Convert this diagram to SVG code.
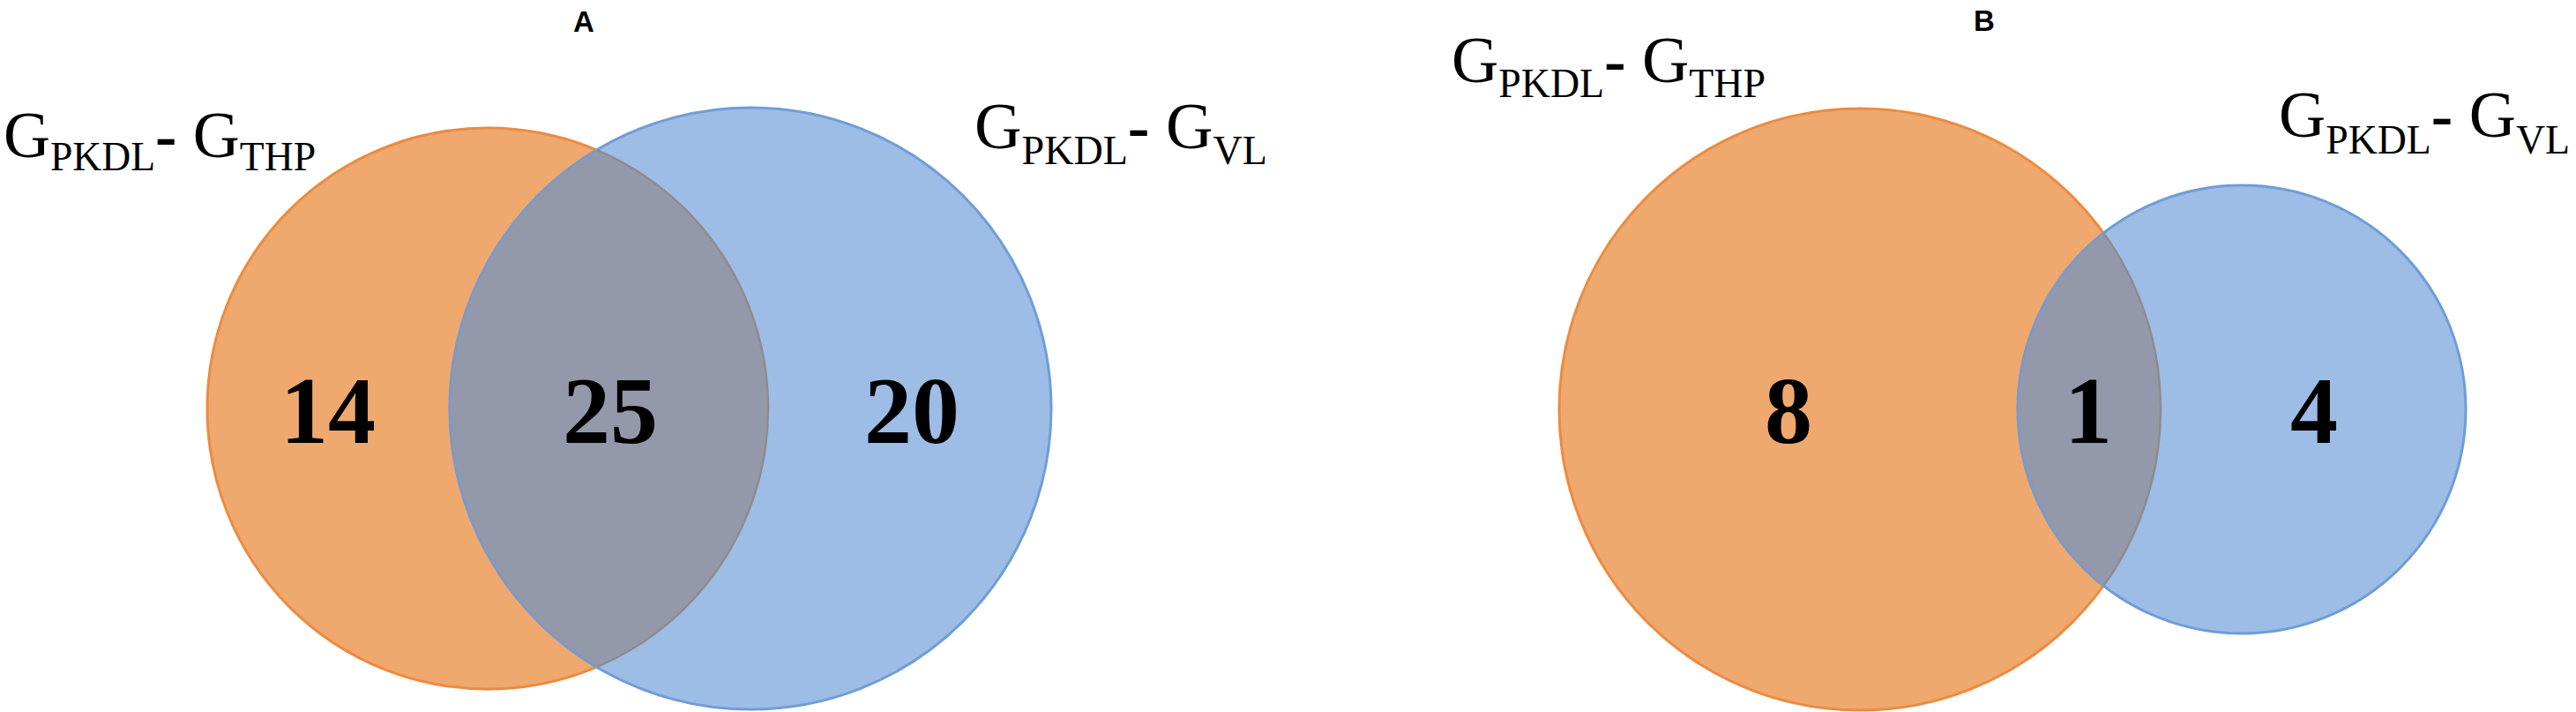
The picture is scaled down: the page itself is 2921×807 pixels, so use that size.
<svg xmlns="http://www.w3.org/2000/svg" width="2921" height="807" viewBox="0 0 2921 807">
<style>
.bg{fill:#ffffff}
.orange{fill:#EFA86E;stroke:#EC8B40;stroke-width:3}
.blue{fill:#9DBCE6;stroke:#6F9DD7;stroke-width:3}
.ov{fill:#9399AA;stroke:none}
.edgeO{fill:none;stroke:#8E8B90;stroke-width:2.5}
.edgeB{fill:none;stroke:#7D99C8;stroke-width:2.5}
.lbl{font-family:"Liberation Serif","Times New Roman",serif;font-size:74px;fill:#000}
.sub{font-size:46px}
.dash{font-weight:bold}
.num{font-family:"Liberation Serif","Times New Roman",serif;font-size:108px;font-weight:bold;fill:#000;text-anchor:middle}
.title{font-family:"Liberation Sans",Arial,sans-serif;font-size:33px;font-weight:bold;fill:#000;text-anchor:middle}
</style>
<defs>
<clipPath id="cOA"><circle cx="553" cy="463" r="318"/></clipPath>
<clipPath id="cBA"><circle cx="851" cy="463" r="341"/></clipPath>
<clipPath id="cOB"><circle cx="2109" cy="464" r="341"/></clipPath>
<clipPath id="cBB"><circle cx="2542" cy="464" r="254"/></clipPath>
</defs>
<rect class="bg" x="0" y="0" width="2921" height="807"/>
<g id="connectors"/>
<g id="panel-a">
<text class="title" x="662" y="36">A</text>
<g id="a-thp">
<circle class="orange" cx="553" cy="463" r="318"/>
</g>
<g id="a-vl">
<circle class="blue" cx="851" cy="463" r="341"/>
</g>
<g id="a-overlap">
<circle class="ov" cx="851" cy="463" r="341" clip-path="url(#cOA)"/>
<circle class="edgeO" cx="553" cy="463" r="318" clip-path="url(#cBA)"/>
<circle class="edgeB" cx="851" cy="463" r="341" clip-path="url(#cOA)"/>
</g>
<g id="a-labels">
<text class="lbl" x="4" y="178" textLength="354" lengthAdjust="spacingAndGlyphs">G<tspan class="sub" dy="15">PKDL</tspan><tspan class="dash" dy="-15">-</tspan> G<tspan class="sub" dy="15">THP</tspan></text>
<text class="lbl" x="1105" y="168" textLength="332" lengthAdjust="spacingAndGlyphs">G<tspan class="sub" dy="18">PKDL</tspan><tspan class="dash" dy="-18">-</tspan> G<tspan class="sub" dy="18">VL</tspan></text>
<text class="num" x="372" y="502">14</text>
<text class="num" x="692" y="502">25</text>
<text class="num" x="1034" y="502">20</text>
</g>
</g>
<g id="panel-b">
<text class="title" x="2250" y="35">B</text>
<g id="b-thp">
<circle class="orange" cx="2109" cy="464" r="341"/>
</g>
<g id="b-vl">
<circle class="blue" cx="2542" cy="464" r="254"/>
</g>
<g id="b-overlap">
<circle class="ov" cx="2542" cy="464" r="254" clip-path="url(#cOB)"/>
<circle class="edgeO" cx="2109" cy="464" r="341" clip-path="url(#cBB)"/>
<circle class="edgeB" cx="2542" cy="464" r="254" clip-path="url(#cOB)"/>
</g>
<g id="b-labels">
<text class="lbl" x="1646" y="93" textLength="356" lengthAdjust="spacingAndGlyphs">G<tspan class="sub" dy="17">PKDL</tspan><tspan class="dash" dy="-17">-</tspan> G<tspan class="sub" dy="17">THP</tspan></text>
<text class="lbl" x="2584" y="155" textLength="330" lengthAdjust="spacingAndGlyphs">G<tspan class="sub" dy="19">PKDL</tspan><tspan class="dash" dy="-19">-</tspan> G<tspan class="sub" dy="19">VL</tspan></text>
<text class="num" x="2028" y="502">8</text>
<text class="num" x="2368" y="502">1</text>
<text class="num" x="2624" y="502">4</text>
</g>
</g>
</svg>
